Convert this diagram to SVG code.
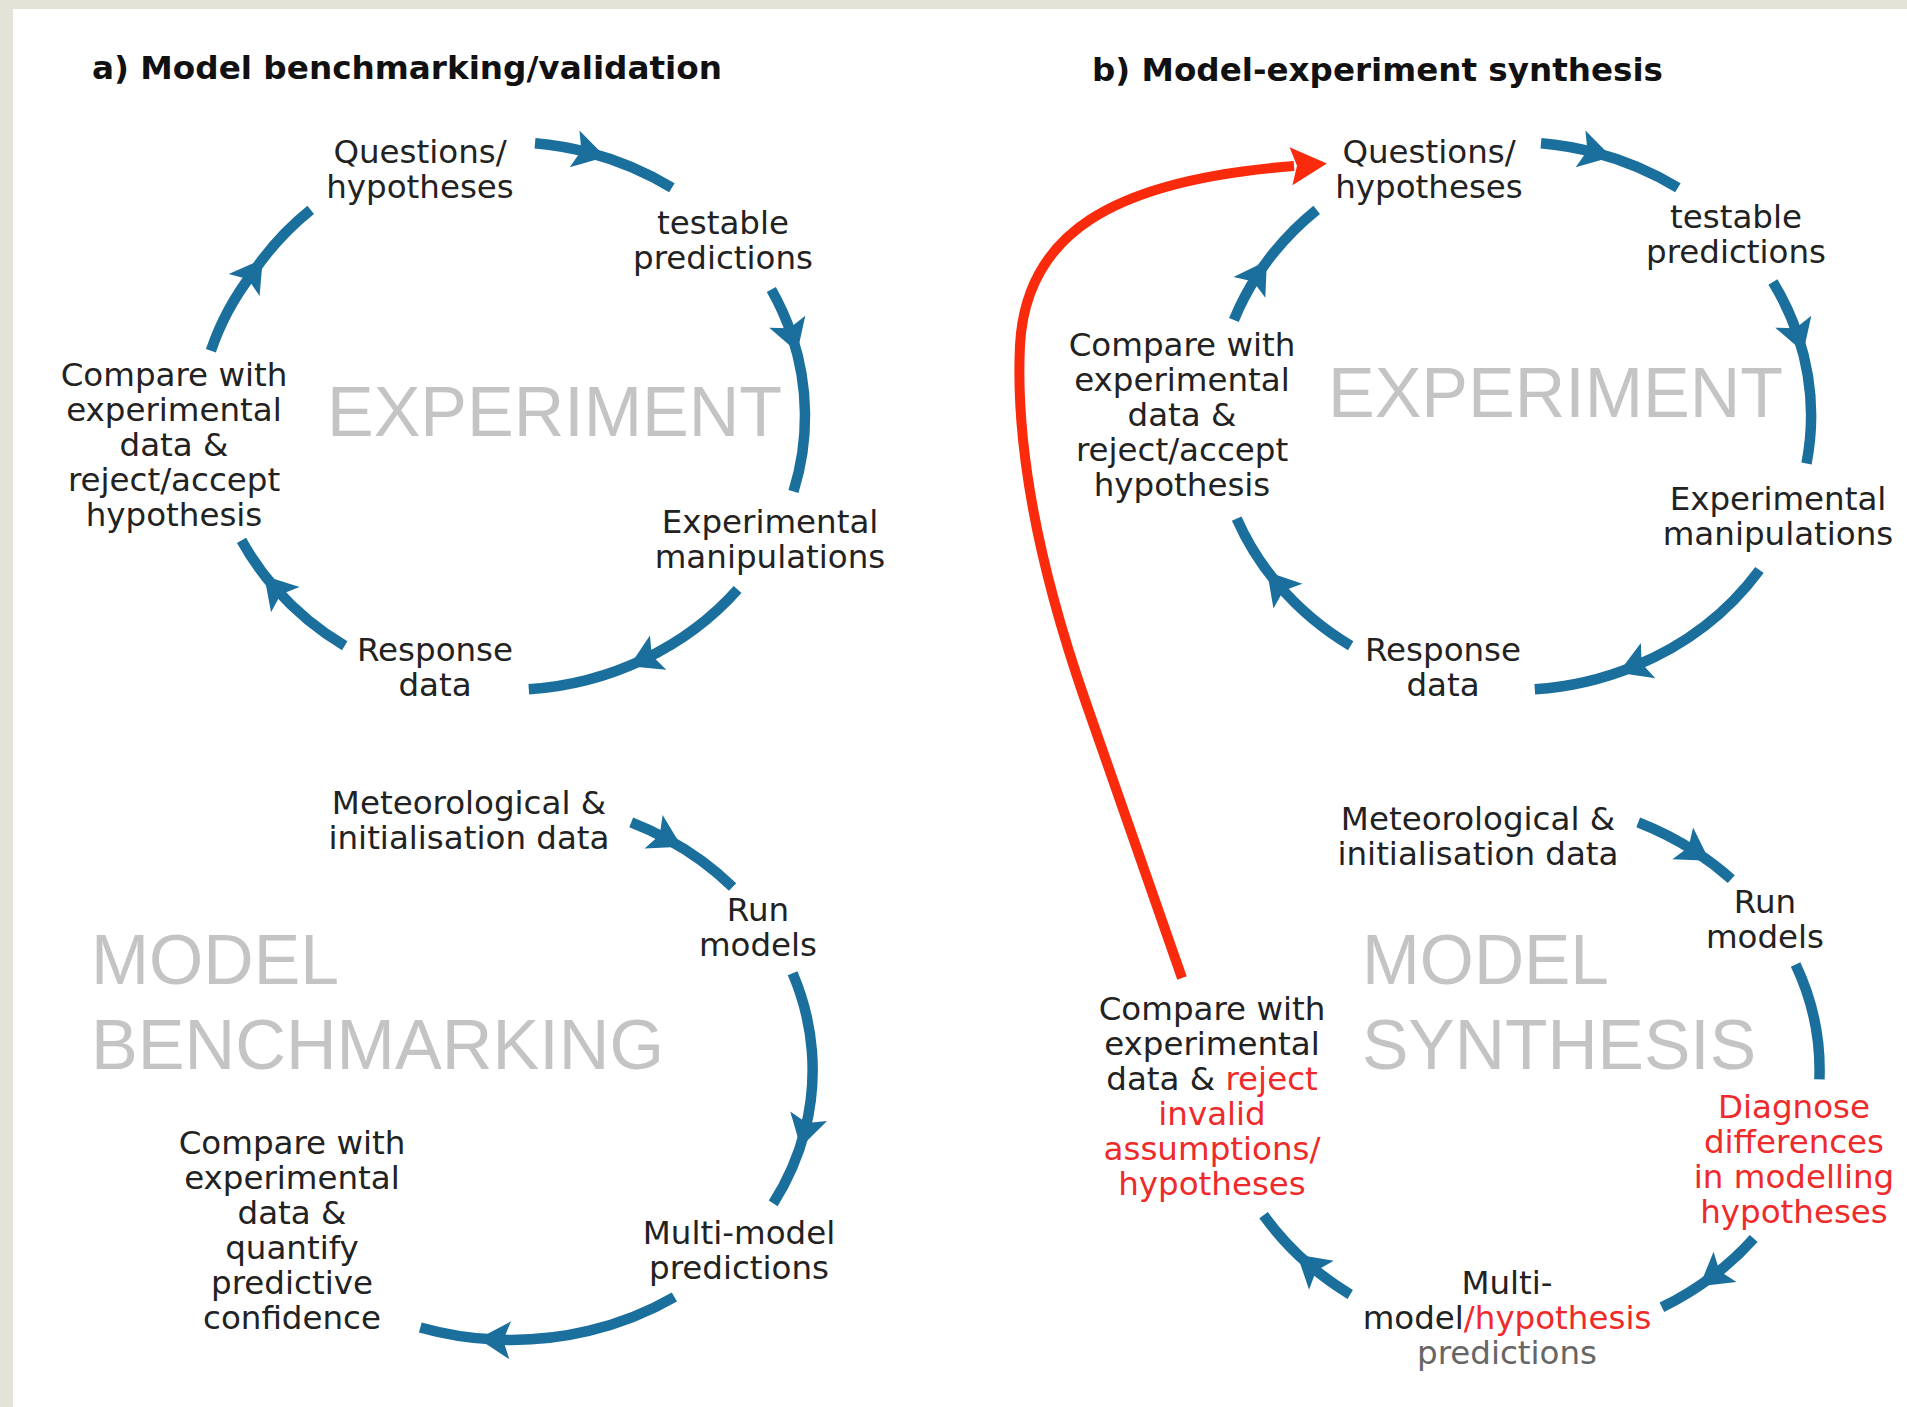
<svg xmlns="http://www.w3.org/2000/svg" width="1907" height="1407" viewBox="0 0 1907 1407">
<defs>
<style>
.lbl{font-family:"DejaVu Sans","Liberation Sans",sans-serif;font-size:32.5px;fill:#222;text-anchor:middle}
.ttl{font-family:"DejaVu Sans","Liberation Sans",sans-serif;font-size:32.5px;font-weight:bold;fill:#111}
.big{font-family:"Liberation Sans",Arial,sans-serif;font-size:70px;fill:#c4c4c4}
.red{fill:#ee2a2a}
.gry{fill:#666}
.arc{fill:none;stroke:#1b6f9c;stroke-width:10.5;marker-mid:url(#ah)}
.arc0{fill:none;stroke:#1b6f9c;stroke-width:10.5}
</style>
<marker id="ah" markerUnits="userSpaceOnUse" viewBox="-25 -25 50 50" markerWidth="50" markerHeight="50" refX="0" refY="0" orient="auto">
<path d="M 17 0 L -15 -19 L -8 0 L -15 19 Z" fill="#1b6f9c"/>
</marker>
<marker id="rh" markerUnits="userSpaceOnUse" viewBox="-10 -25 55 50" markerWidth="55" markerHeight="50" refX="0" refY="0" orient="auto">
<path d="M 33 0 L -3 -19 L 3 0 L -3 19 Z" fill="#fa2a0c"/>
</marker>
</defs>
<rect x="0" y="0" width="1907" height="1407" fill="#e3e3d7"/>
<rect x="13" y="9" width="1894" height="1398" fill="#ffffff"/>

<g id="titles">
<text id="title-a" class="ttl" x="92" y="79" textLength="630" lengthAdjust="spacingAndGlyphs">a) Model benchmarking/validation</text>
<text id="title-b" class="ttl" x="1092" y="81" textLength="571" lengthAdjust="spacingAndGlyphs">b) Model-experiment synthesis</text>
</g>

<g id="watermarks">
<text class="big" x="327" y="436" textLength="455" lengthAdjust="spacingAndGlyphs">EXPERIMENT</text>
<text class="big" x="1328" y="417" textLength="455" lengthAdjust="spacingAndGlyphs">EXPERIMENT</text>
<text class="big" x="91" y="984" textLength="248" lengthAdjust="spacingAndGlyphs">MODEL</text>
<text class="big" x="91" y="1069" textLength="573" lengthAdjust="spacingAndGlyphs">BENCHMARKING</text>
<text class="big" x="1362" y="984" textLength="247" lengthAdjust="spacingAndGlyphs">MODEL</text>
<text class="big" x="1362" y="1069" textLength="394" lengthAdjust="spacingAndGlyphs">SYNTHESIS</text>
</g>

<g id="connectors">
<path class="arc" d="M 535.0 143.2 A 298 274 0 0 1 589.1 152.6 A 298 274 0 0 1 671.9 187.8"/>
<path class="arc" d="M 771.3 289.5 A 298 274 0 0 1 792.0 335.9 A 298 274 0 0 1 793.5 491.5"/>
<path class="arc" d="M 737.6 589.5 A 298 274 0 0 1 644.6 659.0 A 298 274 0 0 1 528.8 689.3"/>
<path class="arc" d="M 344.7 645.8 A 298 274 0 0 1 275.4 588.4 A 298 274 0 0 1 241.5 540.4"/>
<path class="arc" d="M 210.9 350.7 A 298 274 0 0 1 252.9 272.8 A 298 274 0 0 1 310.7 209.8"/>

<path class="arc" d="M 1541.0 143.2 A 298 274 0 0 1 1595.1 152.6 A 298 274 0 0 1 1677.9 187.8"/>
<path class="arc" d="M 1772.9 281.9 A 298 274 0 0 1 1798.0 335.9 A 298 274 0 0 1 1806.5 463.6"/>
<path class="arc" d="M 1759.5 570.0 A 298 274 0 0 1 1634.2 666.3 A 298 274 0 0 1 1534.8 689.3"/>
<path class="arc" d="M 1350.7 645.8 A 298 274 0 0 1 1278.2 584.7 A 298 274 0 0 1 1236.7 518.6"/>
<path class="arc" d="M 1233.9 320.0 A 298 274 0 0 1 1257.6 274.9 A 298 274 0 0 1 1316.7 209.8"/>

<path class="arc" d="M 631.2 822.4 A 301.6 270 0 0 1 666.8 838.8 A 301.6 270 0 0 1 732.6 886.9"/>
<path class="arc" d="M 792.6 973.2 A 301.6 270 0 0 1 804.9 1130.7 A 301.6 270 0 0 1 773.2 1203.4"/>
<path class="arc" d="M 674.4 1297.0 A 301.6 270 0 0 1 495.2 1339.6 A 301.6 270 0 0 1 420.3 1327.5"/>

<path class="arc" d="M 1638.2 822.4 A 301.6 270 0 0 1 1695.3 851.6 A 301.6 270 0 0 1 1731.3 879.1"/>
<path class="arc0" d="M 1795.6 964.5 A 301.6 270 0 0 1 1819.4 1079.4"/>
<path class="arc" d="M 1753.7 1238.5 A 301.6 270 0 0 1 1713.1 1275.9 A 301.6 270 0 0 1 1661.9 1307.3"/>
<path class="arc" d="M 1350.2 1294.4 A 301.6 270 0 0 1 1310.0 1265.5 A 301.6 270 0 0 1 1263.6 1215.1"/>

<path d="M 1182 978 L 1085 700 C 1040 570 1015 450 1020 345 C 1026 235 1110 180 1294 166" fill="none" stroke="#fa2a0c" stroke-width="10" marker-end="url(#rh)"/>
</g>

<g id="a-questions"><text class="lbl" x="420" y="163">Questions/</text><text class="lbl" x="420" y="198">hypotheses</text></g>
<g id="a-testable"><text class="lbl" x="723" y="234">testable</text><text class="lbl" x="723" y="269">predictions</text></g>
<g id="a-manip"><text class="lbl" x="770" y="533">Experimental</text><text class="lbl" x="770" y="568">manipulations</text></g>
<g id="a-response"><text class="lbl" x="435" y="661">Response</text><text class="lbl" x="435" y="696">data</text></g>
<g id="a-compare"><text class="lbl" x="174" y="386">Compare with</text><text class="lbl" x="174" y="421">experimental</text><text class="lbl" x="174" y="456">data &amp;</text><text class="lbl" x="174" y="491">reject/accept</text><text class="lbl" x="174" y="526">hypothesis</text></g>

<g id="a-met"><text class="lbl" x="469" y="814">Meteorological &amp;</text><text class="lbl" x="469" y="849">initialisation data</text></g>
<g id="a-run"><text class="lbl" x="758" y="921">Run</text><text class="lbl" x="758" y="956">models</text></g>
<g id="a-multi"><text class="lbl" x="739" y="1244">Multi-model</text><text class="lbl" x="739" y="1279">predictions</text></g>
<g id="a-quantify"><text class="lbl" x="292" y="1154">Compare with</text><text class="lbl" x="292" y="1189">experimental</text><text class="lbl" x="292" y="1224">data &amp;</text><text class="lbl" x="292" y="1259">quantify</text><text class="lbl" x="292" y="1294">predictive</text><text class="lbl" x="292" y="1329">confidence</text></g>

<g id="b-questions"><text class="lbl" x="1429" y="163">Questions/</text><text class="lbl" x="1429" y="198">hypotheses</text></g>
<g id="b-testable"><text class="lbl" x="1736" y="228">testable</text><text class="lbl" x="1736" y="263">predictions</text></g>
<g id="b-manip"><text class="lbl" x="1778" y="510">Experimental</text><text class="lbl" x="1778" y="545">manipulations</text></g>
<g id="b-response"><text class="lbl" x="1443" y="661">Response</text><text class="lbl" x="1443" y="696">data</text></g>
<g id="b-compare"><text class="lbl" x="1182" y="356">Compare with</text><text class="lbl" x="1182" y="391">experimental</text><text class="lbl" x="1182" y="426">data &amp;</text><text class="lbl" x="1182" y="461">reject/accept</text><text class="lbl" x="1182" y="496">hypothesis</text></g>

<g id="b-met"><text class="lbl" x="1478" y="830">Meteorological &amp;</text><text class="lbl" x="1478" y="865">initialisation data</text></g>
<g id="b-run"><text class="lbl" x="1765" y="913">Run</text><text class="lbl" x="1765" y="948">models</text></g>
<g id="b-diagnose"><text class="lbl red" x="1794" y="1118">Diagnose</text><text class="lbl red" x="1794" y="1153">differences</text><text class="lbl red" x="1794" y="1188">in modelling</text><text class="lbl red" x="1794" y="1223">hypotheses</text></g>
<g id="b-multi"><text class="lbl" x="1507" y="1294">Multi-</text><text class="lbl" x="1507" y="1329">model<tspan class="red">/hypothesis</tspan></text><text class="lbl gry" x="1507" y="1364">predictions</text></g>
<g id="b-reject"><text class="lbl" x="1212" y="1020">Compare with</text><text class="lbl" x="1212" y="1055">experimental</text><text class="lbl" x="1212" y="1090">data &amp; <tspan class="red">reject</tspan></text><text class="lbl red" x="1212" y="1125">invalid</text><text class="lbl red" x="1212" y="1160">assumptions/</text><text class="lbl red" x="1212" y="1195">hypotheses</text></g>
</svg>
